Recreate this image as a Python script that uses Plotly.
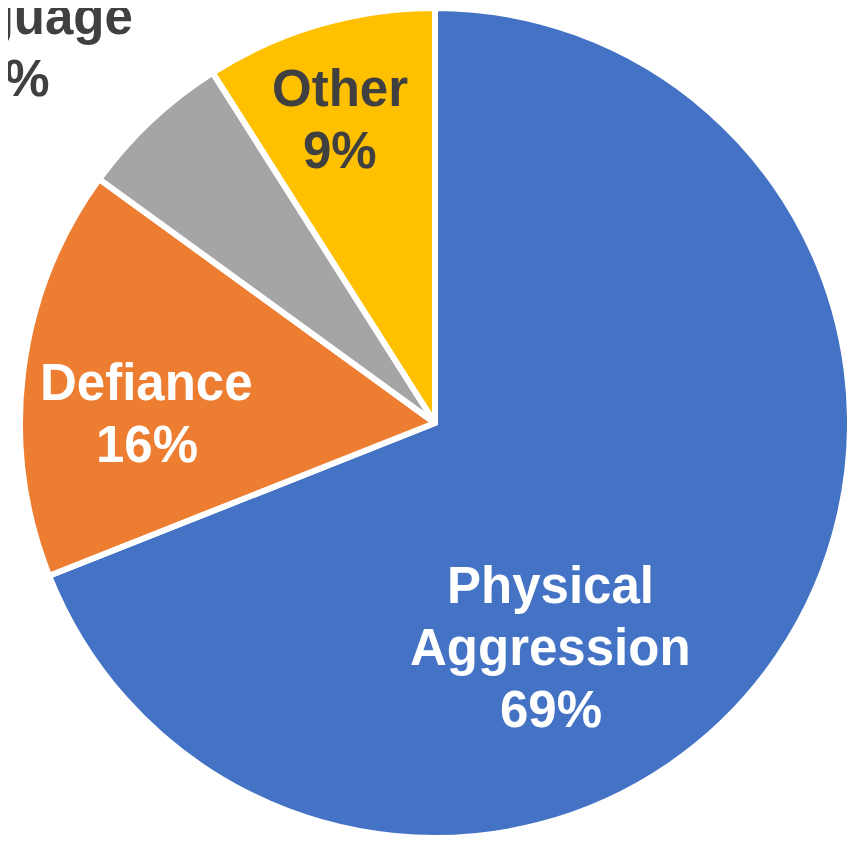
import plotly.graph_objects as go

# ---- data ----
labels = ["Physical Aggression", "Defiance", "Language", "Other"]
values = [69, 16, 6, 9]

# ---- styles ----
colors = ["#4472C4", "#ED7D31", "#A5A5A5", "#FFC000"]
text_colors = ["#FFFFFF", "#FFFFFF", "#404040", "#404040"]
# label block centres, relative to pie centre, in units of pie radius (x right, y down)
label_offsets = [(0.2795, 0.542), (-0.694, -0.022), (-1.017, -0.905), (-0.229, -0.7325)]
LINE_STEP = 62   # px between label lines
FONT_SIZE = 51

# page has an 8px body margin, so the figure is sized to fit the 855x842 window
PAGE_OFF = 8
W, H = 855 - PAGE_OFF, 842 - PAGE_OFF
cx_px, cy_px, r_px = 435 - PAGE_OFF, 423 - PAGE_OFF, 415

fig = go.Figure(go.Pie(
    labels=labels,
    values=values,
    sort=False,
    direction="clockwise",
    rotation=0,
    textinfo="none",
    hoverinfo="skip",
    marker=dict(colors=colors, line=dict(color="#FFFFFF", width=6)),
    domain=dict(x=[max(0, (cx_px - r_px) / W), min(1, (cx_px + r_px) / W)],
                y=[max(0, 1 - (cy_px + r_px) / H), min(1, 1 - (cy_px - r_px) / H)]),
    showlegend=False,
))

total = sum(values)
for lab, val, col, (dx, dy) in zip(labels, values, text_colors, label_offsets):
    pct = round(100 * val / total)
    lines = lab.split(" ") + [f"{pct}%"]
    n = len(lines)
    bx = cx_px + dx * r_px
    by = cy_px + dy * r_px
    for i, line in enumerate(lines):
        ly = by + (i - (n - 1) / 2) * LINE_STEP
        fig.add_annotation(
            x=bx / W,
            y=1 - ly / H,
            xref="paper", yref="paper",
            text=f"<b>{line}</b>",
            showarrow=False,
            xanchor="center", yanchor="middle",
            align="center",
            font=dict(family="Liberation Sans, Arial, sans-serif", size=FONT_SIZE, color=col),
        )

fig.update_layout(
    width=W, height=H,
    margin=dict(l=0, r=0, t=0, b=0),
    paper_bgcolor="#FFFFFF",
    plot_bgcolor="#FFFFFF",
)

fig.write_html("out.html")
